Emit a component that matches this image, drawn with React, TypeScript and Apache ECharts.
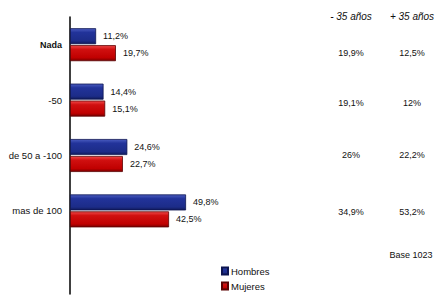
import React, { useEffect, useRef } from "react";
import * as echarts from "echarts";

const categories = ["Nada", "-50", "de 50 a -100", "mas de 100", ""];
const hombres = [11.2, 14.4, 24.6, 49.8, null];
const mujeres = [19.7, 15.1, 22.7, 42.5, null];
const tableHeaders = ["- 35 años", "+ 35 años"];
const menos35 = [19.9, 19.1, 26, 34.9];
const mas35 = [12.5, 12, 22.2, 53.2];
const baseNote = "Base 1023";

const fmt = (v: number) => String(v).replace(".", ",") + "%";

export default function App() {
  const ref = useRef<HTMLDivElement>(null);
  useEffect(() => {
    if (!ref.current) return;
    const chart = echarts.init(ref.current, null, { renderer: "svg" });
    const font = "'Liberation Sans', Arial, sans-serif";
    const ink = "#111";
    const blue = new echarts.graphic.LinearGradient(0, 0, 0, 1, [
      { offset: 0, color: "#4a5cc0" },
      { offset: 0.25, color: "#22339a" },
      { offset: 0.8, color: "#1c2c88" },
      { offset: 1, color: "#101a5a" },
    ]);
    const red = new echarts.graphic.LinearGradient(0, 0, 0, 1, [
      { offset: 0, color: "#f04848" },
      { offset: 0.25, color: "#d01010" },
      { offset: 0.8, color: "#c00000" },
      { offset: 1, color: "#7a0000" },
    ]);
    const rowY = [53, 103, 155, 212];
    const colX = [351, 412];
    const graphics: any[] = [];
    tableHeaders.forEach((h, i) => {
      graphics.push({
        type: "text",
        x: colX[i],
        y: 16,
        style: {
          text: h,
          font: `italic 10px ${font}`,
          fill: ink,
          align: "center",
          verticalAlign: "middle",
        },
      });
    });
    [menos35, mas35].forEach((col, ci) => {
      col.forEach((v, ri) => {
        graphics.push({
          type: "text",
          x: colX[ci],
          y: rowY[ri],
          style: {
            text: fmt(v),
            font: `9px ${font}`,
            fill: ink,
            align: "center",
            verticalAlign: "middle",
          },
        });
      });
    });
    graphics.push({
      type: "text",
      x: 411,
      y: 255,
      style: {
        text: baseNote,
        font: `9px ${font}`,
        fill: ink,
        align: "center",
        verticalAlign: "middle",
      },
    });

    const valueLabel = {
      show: true,
      position: "right",
      distance: 7,
      formatter: (p: any) => fmt(p.value),
      fontSize: 9,
      fontFamily: font,
      color: ink,
    };

    chart.setOption({
      animation: false,
      grid: { left: 70, top: 17, width: 233, height: 277 },
      legend: {
        orient: "vertical",
        left: 216,
        top: 261,
        itemWidth: 6,
        itemHeight: 7,
        itemGap: 5,
        icon: "rect",
        textStyle: { fontSize: 9.5, fontFamily: font, color: ink, padding: [0, 0, 0, -2] },
        data: ["Hombres", "Mujeres"],
      },
      xAxis: { type: "value", min: 0, max: 100, show: false },
      yAxis: {
        type: "category",
        data: categories,
        inverse: true,
        axisLine: { show: true, lineStyle: { color: "#000", width: 1.5 } },
        axisTick: { show: false },
        axisLabel: {
          fontSize: 9.5,
          fontFamily: font,
          color: ink,
          margin: 8,
          formatter: (v: string) => (v === "Nada" ? "{b|" + v + "}" : "{n|" + v + "}"),
          rich: {
            b: { fontWeight: "bold", fontSize: 9, fontFamily: font, color: ink },
            n: { fontWeight: "normal", fontSize: 9.5, fontFamily: font, color: ink },
          },
        },
        splitLine: { show: false },
      },
      series: [
        {
          name: "Hombres",
          type: "bar",
          data: hombres,
          barWidth: 16,
          barGap: "6%",
          itemStyle: { color: blue, borderColor: "#0c1450", borderWidth: 0.8 },
          label: valueLabel,
        },
        {
          name: "Mujeres",
          type: "bar",
          data: mujeres,
          barWidth: 16,
          itemStyle: { color: red, borderColor: "#5a0000", borderWidth: 0.8 },
          label: valueLabel,
        },
      ],
      graphic: graphics,
    });
    return () => chart.dispose();
  }, []);
  return <div ref={ref} style={{ width: 447, height: 304, position: "absolute", left: 0, top: 0 }} />;
}
